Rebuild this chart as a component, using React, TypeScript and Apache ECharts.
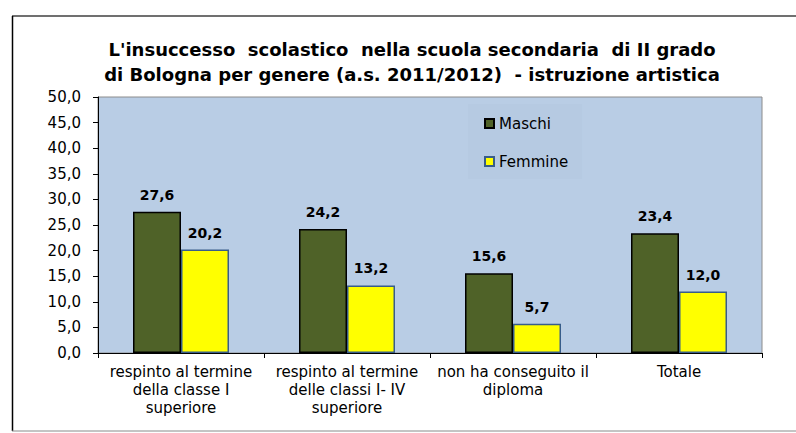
import React, { useEffect, useRef } from "react";
import * as echarts from "echarts";

const categories = [
  "respinto al termine\ndella classe I\nsuperiore",
  "respinto al termine\ndelle classi I- IV\nsuperiore",
  "non ha conseguito il\ndiploma",
  "Totale",
];
const maschi = [27.6, 24.2, 15.6, 23.4];
const femmine = [20.2, 13.2, 5.7, 12.0];
const titleText =
  "L'insuccesso  scolastico  nella scuola secondaria  di II grado\ndi Bologna per genere (a.s. 2011/2012)  - istruzione artistica";

const fmt = (v: number) => v.toFixed(1).replace(".", ",");
const FONT = "'DejaVu Sans', 'Liberation Sans', Arial, sans-serif";

export default function App() {
  const ref = useRef<HTMLDivElement>(null);
  useEffect(() => {
    if (!ref.current) return;
    const chart = echarts.init(ref.current, null, { renderer: "svg" });
    const barLabel = {
      show: true,
      position: "top",
      distance: 10,
      fontFamily: FONT,
      fontSize: 14,
      fontWeight: "bold",
      color: "#000",
      formatter: (p: any) => fmt(p.value),
    };
    chart.setOption({
      animation: false,
      backgroundColor: "#ffffff",
      textStyle: { fontFamily: FONT },
      title: {
        text: titleText,
        left: 412,
        textAlign: "center",
        top: 37,
        padding: 0,
        textStyle: {
          fontFamily: FONT,
          fontSize: 18,
          fontWeight: "bold",
          color: "#000",
          lineHeight: 25,
        },
      },
      graphic: [
        { type: "line", shape: { x1: 12, y1: 16, x2: 796, y2: 16 }, style: { stroke: "#404040", lineWidth: 1.5 } },
        { type: "line", shape: { x1: 12.5, y1: 16, x2: 12.5, y2: 431 }, style: { stroke: "#000", lineWidth: 1.5 } },
        { type: "line", shape: { x1: 12, y1: 431, x2: 796, y2: 431 }, style: { stroke: "#8a8a8a", lineWidth: 1 } },
      ],
      legend: {
        orient: "vertical",
        left: 468,
        top: 104,
        padding: [12, 14, 10, 16],
        itemGap: 23,
        itemWidth: 9,
        itemHeight: 9,
        backgroundColor: "#B6CAE2",
        icon: "rect",
        textStyle: { fontFamily: FONT, fontSize: 15, color: "#000" },
        data: ["Maschi", "Femmine"],
      },
      grid: {
        left: 98,
        right: 34,
        top: 97,
        bottom: 80,
        show: true,
        backgroundColor: "#B9CDE5",
        borderColor: "#8c8c8c",
        borderWidth: 1,
      },
      xAxis: {
        type: "category",
        data: categories,
        axisLine: { lineStyle: { color: "#000", width: 1 } },
        axisTick: { show: true, length: 5, lineStyle: { color: "#000" } },
        axisLabel: {
          fontFamily: FONT,
          fontSize: 15,
          color: "#000",
          lineHeight: 18,
          margin: 10,
          interval: 0,
        },
      },
      yAxis: {
        type: "value",
        min: 0,
        max: 50,
        interval: 5,
        axisLine: { show: true, lineStyle: { color: "#000", width: 1 } },
        axisTick: { show: true, length: 5, lineStyle: { color: "#000" } },
        splitLine: { show: false },
        axisLabel: {
          fontFamily: FONT,
          fontSize: 15,
          color: "#000",
          margin: 17,
          formatter: (v: number) => fmt(v),
        },
      },
      series: [
        {
          name: "Maschi",
          type: "bar",
          data: maschi,
          barWidth: 48,
          barGap: "0%",
          itemStyle: { color: "#4F6228", borderColor: "#000", borderWidth: 1.5 },
          label: barLabel,
        },
        {
          name: "Femmine",
          type: "bar",
          data: femmine,
          barWidth: 48,
          itemStyle: { color: "#FFFF00", borderColor: "#385D8A", borderWidth: 1.5 },
          label: barLabel,
        },
      ],
    });
    return () => chart.dispose();
  }, []);
  return (
    <div
      ref={ref}
      style={{ position: "fixed", left: 0, top: 0, width: 796, height: 433 }}
    />
  );
}
